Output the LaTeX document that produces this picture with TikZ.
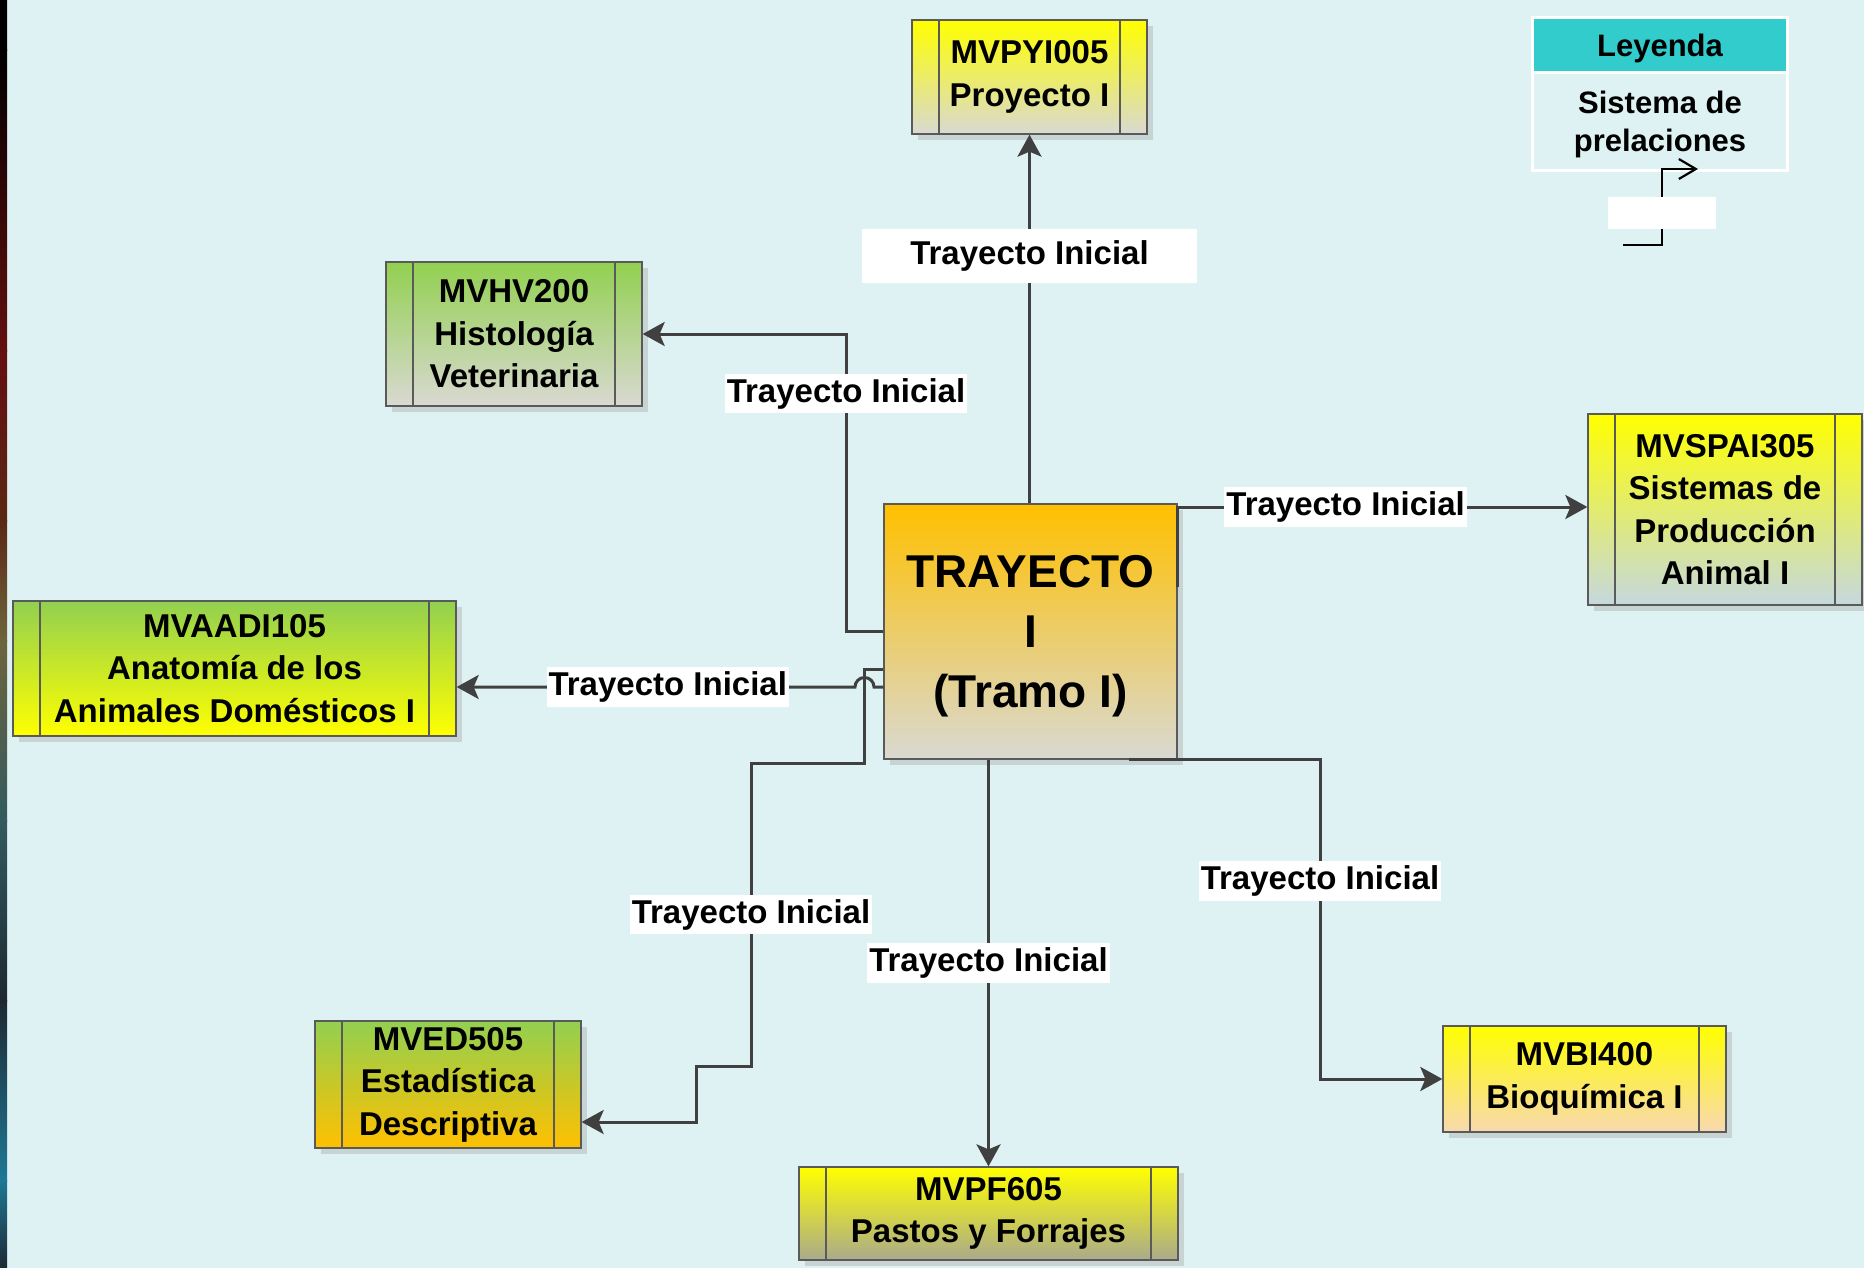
\documentclass[tikz,border=0pt]{standalone}
\usepackage{fontspec}
\setmainfont{Liberation Sans}
\usetikzlibrary{positioning,arrows.meta,shadows}

\definecolor{bgcyan}{RGB}{222,242,243}
\definecolor{lineg}{RGB}{64,64,64}
\definecolor{boxedge}{RGB}{90,90,90}
\definecolor{yel}{RGB}{255,255,0}
\definecolor{grn}{RGB}{146,208,80}
\definecolor{org}{RGB}{255,192,0}
\definecolor{gry}{RGB}{217,217,210}
\definecolor{olv}{RGB}{170,170,140}
\definecolor{pch}{RGB}{248,216,176}
\definecolor{blg}{RGB}{197,216,222}
\definecolor{tealh}{RGB}{51,204,204}
\definecolor{shd}{RGB}{200,212,212}
\definecolor{sred}{RGB}{100,15,15}
\definecolor{sbrn}{RGB}{90,40,20}
\definecolor{solv}{RGB}{110,100,60}
\definecolor{stea}{RGB}{50,90,95}
\definecolor{sdk}{RGB}{30,40,50}
\definecolor{scy}{RGB}{30,120,150}

\tikzset{
    course/.style={
        draw=boxedge, line width=1.3pt, inner sep=0pt, align=center,
        font=\fontsize{33}{42.5}\selectfont\bfseries,
        drop shadow={shadow xshift=6pt, shadow yshift=-6pt, fill=shd, opacity=1},
        path picture={
            \draw[boxedge, line width=1.3pt]
                ([xshift=27pt]path picture bounding box.north west) -- ([xshift=27pt]path picture bounding box.south west)
                ([xshift=-27pt]path picture bounding box.north east) -- ([xshift=-27pt]path picture bounding box.south east);
        }
    },
    hub/.style={
        draw=boxedge, line width=1.3pt, inner sep=0pt, align=center,
        top color=org, bottom color=gry, text depth=0pt,
        font=\fontsize{46}{60}\selectfont\bfseries,
        drop shadow={shadow xshift=6pt, shadow yshift=-6pt, fill=shd, opacity=1}
    },
    conn/.style={draw=lineg, line width=3pt, -{Stealth[length=22pt,width=24pt,inset=5pt]}},
    lbl/.style={fill=white, text=black, font=\fontsize{33}{38}\selectfont\bfseries, inner xsep=2pt, inner ysep=4.5pt},
    leghead/.style={fill=tealh, draw=white, line width=3pt, outer sep=0pt, minimum width=255pt, minimum height=55pt,
        text depth=0pt, font=\fontsize{31}{32}\selectfont\bfseries},
    legbody/.style={draw=white, line width=3pt, outer sep=0pt, minimum width=255pt, minimum height=98pt, align=center,
        text depth=0pt, font=\fontsize{31}{38}\selectfont\bfseries},
    legline/.style={black, line width=2.2pt, -{Straight Barb[length=17pt,width=20pt]}}
}

\begin{document}
\begin{tikzpicture}[x=1pt, y=-1pt]
    \fill[bgcyan] (0,0) rectangle (1864,1268);
    \useasboundingbox (0,0) rectangle (1864,1268);

    % strip on the left edge
    \foreach \ya/\yb/\ca/\cb in {0/51/black/black, 50/351/black/sred, 350/521/sred/sbrn, 520/641/sbrn/solv,
        640/821/solv/stea, 820/1001/stea/sdk, 1000/1181/sdk/scy, 1180/1268/scy/sdk}
        \shade[top color=\ca, bottom color=\cb] (0,\ya) rectangle (7,\yb);

    % courses
    \node (cen) [hub, minimum width=293pt, minimum height=255pt] at (1030.5,631.5) {TRAYECTO\\I\\(Tramo I)};
    \node (pyi) [course, top color=yel, bottom color=gry, minimum width=235pt, minimum height=114pt] at (1029.5,77) {MVPYI005\\Proyecto I};
    \node (hv) [course, top color=grn, bottom color=gry, minimum width=256pt, minimum height=144pt] at (514,334) {MVHV200\\Histología\\Veterinaria};
    \node (aadi) [course, top color=grn, bottom color=yel, minimum width=443pt, minimum height=135pt] at (234.5,668.5) {MVAADI105\\Anatomía de los\\Animales Domésticos I};
    \node (ed) [course, top color=grn, bottom color=org, minimum width=266pt, minimum height=127pt] at (448,1084.5) {MVED505\\Estadística\\Descriptiva};
    \node (pf) [course, top color=yel, bottom color=olv, minimum width=379pt, minimum height=93pt] at (988.5,1213.5) {MVPF605\\Pastos y Forrajes};
    \node (bi) [course, top color=yel, bottom color=pch, minimum width=283pt, minimum height=106pt] at (1584.5,1079) {MVBI400\\Bioquímica I};
    \node (spai) [course, top color=yel, bottom color=blg, minimum width=274pt, minimum height=191pt] at (1725,509.5) {MVSPAI305\\Sistemas de\\Producción\\Animal I};

    % prelaciones
    \draw[conn] (pyi.south |- cen.north) -- node[lbl, pos=0.67, minimum width=335pt, minimum height=54pt] {Trayecto Inicial} (pyi.south);
    \draw[conn] (cen.west) -| node[lbl, pos=0.9] {Trayecto Inicial} (846,334) -- (hv.east);
    \draw[conn] (cen.west |- 0,687) -- (874,687) arc[start angle=0, end angle=-180, radius=9.5]
        -- node[lbl, pos=0.47] {Trayecto Inicial} (aadi.east |- 0,687);
    \draw[conn] (cen.west |- 0,669) -| (864,763) -| node[lbl, pos=0.75] {Trayecto Inicial} (751,1066) -| (696,1122) -- (ed.east |- 0,1122);
    \draw[conn] (pf.north |- cen.south) -- node[lbl] {Trayecto Inicial} (pf.north);
    \draw[conn] (cen.south -| 1129,0) -- (cen.south -| 1320,0) |- node[lbl, pos=0.19] {Trayecto Inicial} (bi.west);
    \draw[conn] (cen.east |- 0,587) -- (cen.east |- 0,507) -- node[lbl, pos=0.41] {Trayecto Inicial} (spai.west |- 0,507);

    % leyenda
    \node (leyhead) [leghead] at (1660,45) {Leyenda};
    \node (leybody) [legbody, below=0pt of leyhead] {Sistema de\\prelaciones};
    \coordinate (legA) at (1623,245);
    \coordinate (legB) at (1698,169);
    \draw[legline] (legA) -| (1662,169) -- (legB);
    \node (legmark) [fill=white, minimum width=108pt, minimum height=32pt, inner sep=0pt] at (1662,213) {};
\end{tikzpicture}
\end{document}
